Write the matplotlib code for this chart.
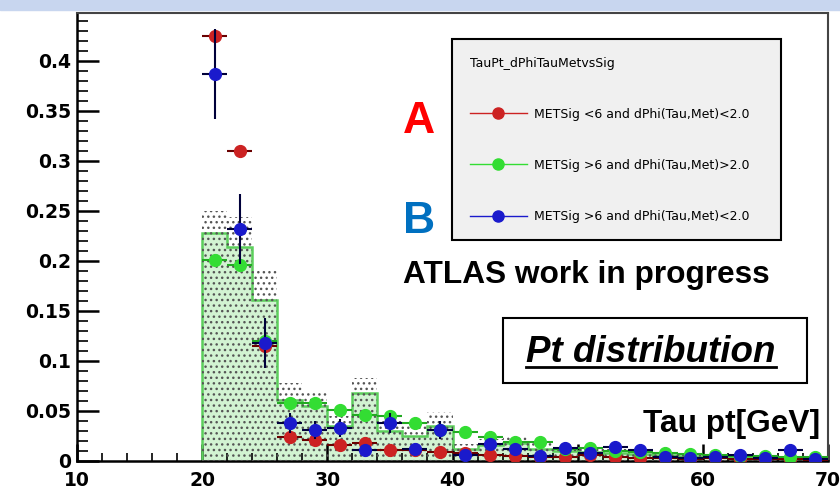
import numpy as np
import matplotlib
matplotlib.use('Agg')
import matplotlib.pyplot as plt
from matplotlib.lines import Line2D
from matplotlib.patches import Rectangle

# 2 GeV bins from 20 to 70 GeV
bin_edges = np.arange(20, 72, 2)
bin_centers = bin_edges[:-1] + 1

# MC histogram (green filled) and its error band
hist_vals = [0.228, 0.214, 0.161, 0.061, 0.055, 0.035, 0.068, 0.030, 0.025, 0.035,
             0.012, 0.016, 0.018, 0.012, 0.010, 0.009, 0.008, 0.007, 0.006, 0.005,
             0.005, 0.004, 0.004, 0.003, 0.003]
hist_err = [0.022, 0.030, 0.030, 0.017, 0.014, 0.010, 0.015, 0.012, 0.010, 0.014,
            0.005, 0.006, 0.007, 0.006, 0.005, 0.004, 0.004, 0.003, 0.003, 0.003,
            0.003, 0.002, 0.002, 0.002, 0.002]

# METSig <6 and dPhi<2.0 (red)
red_vals = [0.425, 0.310, 0.115, 0.024, 0.021, 0.016, 0.018, 0.011, 0.011, 0.009,
            0.008, 0.006, 0.005, 0.004, 0.004, 0.006, 0.004, 0.003, 0.003, 0.002,
            0.003, 0.002, 0.002, 0.002, 0.001]
red_err = [0.004, 0.004, 0.003, 0.002, 0.002, 0.002, 0.002, 0.002, 0.002, 0.002,
           0.002, 0.001, 0.001, 0.001, 0.001, 0.001, 0.001, 0.001, 0.001, 0.001,
           0.001, 0.001, 0.001, 0.001, 0.001]

# METSig >6 and dPhi>2.0 (green)
green_vals = [0.201, 0.196, 0.120, 0.058, 0.058, 0.051, 0.046, 0.045, 0.038, 0.031,
              0.029, 0.024, 0.019, 0.019, 0.012, 0.013, 0.010, 0.009, 0.008, 0.007,
              0.006, 0.005, 0.005, 0.004, 0.004]
green_err = [0.006, 0.006, 0.005, 0.004, 0.004, 0.004, 0.004, 0.003, 0.003, 0.003,
             0.003, 0.003, 0.002, 0.002, 0.002, 0.002, 0.002, 0.002, 0.002, 0.002,
             0.001, 0.001, 0.001, 0.001, 0.001]

# METSig >6 and dPhi<2.0 (blue)
blue_vals = [0.387, 0.232, 0.118, 0.038, 0.031, 0.033, 0.011, 0.038, 0.012, 0.031,
             0.006, 0.017, 0.012, 0.005, 0.013, 0.008, 0.014, 0.011, 0.004, 0.003,
             0.004, 0.006, 0.003, 0.011, 0.002]
blue_err = [0.045, 0.035, 0.025, 0.010, 0.009, 0.009, 0.006, 0.010, 0.006, 0.009,
            0.004, 0.006, 0.005, 0.003, 0.005, 0.004, 0.005, 0.005, 0.003, 0.002,
            0.003, 0.004, 0.002, 0.005, 0.002]

legend_labels = ['METSig <6 and dPhi(Tau,Met)<2.0',
                 'METSig >6 and dPhi(Tau,Met)>2.0',
                 'METSig >6 and dPhi(Tau,Met)<2.0']
y_ticks = [0, 0.05, 0.1, 0.15, 0.2, 0.25, 0.3, 0.35, 0.4]
y_tick_labels = ['0', '0.05', '0.1', '0.15', '0.2', '0.25', '0.3', '0.35', '0.4']
x_ticks = [10, 20, 30, 40, 50, 60, 70]

plt.rcParams['hatch.linewidth'] = 1.0

W, H = 840, 495
fig = plt.figure(figsize=(8.4, 4.95), dpi=100)

# light blue slide strip on top
fig.patches.append(Rectangle((0, 1 - 10 / H), 1, 10 / H, transform=fig.transFigure,
                             color='#c8d6ef', zorder=0))

ax = fig.add_axes([77 / W, 1 - 461 / H, 751 / W, 448 / H])

# histogram with dotted error band
hist_top = np.array(hist_vals) + np.array(hist_err)
ax.bar(bin_edges[:-1], hist_vals, width=2, align='edge', color='#d2f3d2', linewidth=0, zorder=1)
ax.stairs(hist_vals, bin_edges, color='#5ccf5c', linewidth=1.8, baseline=0, zorder=2)
ax.bar(bin_edges[:-1], hist_top, width=2, align='edge', facecolor='none',
       edgecolor='#555555', hatch='...', linewidth=0, zorder=3)

# data points
ax.errorbar(bin_centers, red_vals, xerr=1, yerr=red_err, fmt='o', color='#cc2222',
            ecolor='#6a0000', ms=8.5, elinewidth=1.5, capsize=0, zorder=4)
ax.errorbar(bin_centers, green_vals, xerr=1, yerr=green_err, fmt='o', color='#33dd33',
            ecolor='#22aa22', ms=8.5, elinewidth=1.5, capsize=0, zorder=5)
ax.errorbar(bin_centers, blue_vals, xerr=1, yerr=blue_err, fmt='o', color='#1a1acc',
            ecolor='#00003a', ms=8.5, elinewidth=1.5, capsize=0, zorder=6)

ax.set_xlim(10, 70)
ax.set_ylim(0, 0.448)
ax.set_xticks(x_ticks)
ax.set_xticklabels([str(t) for t in x_ticks])
ax.set_xticks(np.arange(10, 71, 2), minor=True)
ax.set_yticks(y_ticks)
ax.set_yticklabels(y_tick_labels)
ax.set_yticks(np.arange(0, 0.445, 0.01), minor=True)

for lab in ax.get_xticklabels() + ax.get_yticklabels():
    lab.set_fontweight('bold')
    lab.set_fontsize(13.5)

ax.tick_params(axis='y', which='major', direction='in', length=16, width=1.8, pad=4)
ax.tick_params(axis='y', which='minor', direction='in', length=8, width=1.2)
ax.tick_params(axis='x', which='major', direction='in', length=12, width=1.8, pad=7)
ax.tick_params(axis='x', which='minor', direction='in', length=6, width=1.2)

for s in ['left', 'bottom']:
    ax.spines[s].set_linewidth(1.8)
for s in ['top', 'right']:
    ax.spines[s].set_linewidth(1.5)
    ax.spines[s].set_color('#444444')

# legend
handles = [Line2D([], [], color='#cc2222', marker='o', ms=8, lw=1),
           Line2D([], [], color='#33dd33', marker='o', ms=8, lw=1),
           Line2D([], [], color='#1a1acc', marker='o', ms=8, lw=1)]
leg = ax.legend(handles, legend_labels, title='TauPt_dPhiTauMetvsSig',
                loc='upper left', mode='expand',
                bbox_to_anchor=(452 / W, 1 - 237 / H, 329 / W, 198 / H),
                bbox_transform=fig.transFigure, borderaxespad=0,
                fontsize=9, title_fontsize=9, alignment='left',
                handlelength=4.6, handletextpad=0.6, borderpad=1.4, labelspacing=3.05,
                frameon=True, fancybox=False, edgecolor='black',
                facecolor='#f0f0f0', framealpha=1)
leg.get_frame().set_linewidth(1.5)
leg.set_zorder(10)

# annotations
font = 'Liberation Sans'
fig.text(419 / W, 1 - 133 / H, 'A', color='#ff0000', fontsize=32, fontweight='bold',
         ha='center', va='baseline', family=font)
fig.text(419 / W, 1 - 233 / H, 'B', color='#0070c0', fontsize=32, fontweight='bold',
         ha='center', va='baseline', family=font)
fig.text(403 / W, 1 - 283 / H, 'ATLAS work in progress', color='black', fontsize=22.8,
         fontweight='bold', ha='left', va='baseline', family=font)
fig.text(820 / W, 1 - 432 / H, 'Tau pt[GeV]', color='black', fontsize=22.8,
         fontweight='bold', ha='right', va='baseline', family=font)

fig.patches.append(Rectangle((503 / W, 1 - 383 / H), 304 / W, 65 / H,
                             transform=fig.transFigure, facecolor='white',
                             edgecolor='black', linewidth=1.5, zorder=5))
pt_txt = fig.text(651 / W, 1 - 362 / H, 'Pt distribution', color='black', fontsize=26.5,
                  fontweight='bold', fontstyle='italic', ha='center', va='baseline',
                  family=font, zorder=6)

# underline the title text
fig.canvas.draw()
bb = pt_txt.get_window_extent()
fig.add_artist(Line2D([bb.x0 / W, bb.x1 / W], [1 - 367 / H, 1 - 367 / H],
                      transform=fig.transFigure, color='black', linewidth=2, zorder=6))

fig.savefig('out.png', dpi=100)
